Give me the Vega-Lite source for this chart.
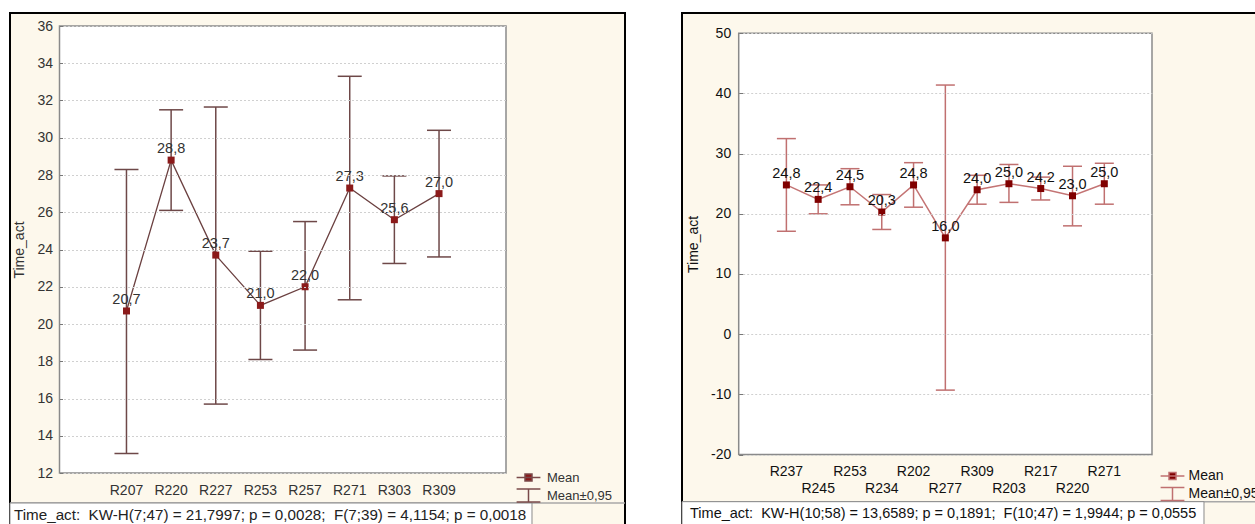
{
  "$schema": "https://vega.github.io/schema/vega-lite/v6.json",
  "background": "white",
  "padding": {"left": 8, "top": 12, "right": 0, "bottom": 0},
  "bounds": "flush",
  "spacing": 57,
  "config": {
    "locale": {"number": {"decimal": ",", "thousands": ".", "grouping": [3], "currency": ["", ""], "minus": "-"}},
    "font": "Liberation Sans",
    "axis": {"labelFont": "Liberation Sans", "titleFont": "Liberation Sans", "labelFontSize": 14, "titleFontSize": 14, "titleFontWeight": "normal"},
    "legend": {"labelFont": "Liberation Sans", "labelFontSize": 14}
  },
  "datasets": {
    "left": [
      {"group": "R207", "mean": 20.7, "lo": 13.05, "hi": 28.3},
      {"group": "R220", "mean": 28.8, "lo": 26.1, "hi": 31.5},
      {"group": "R227", "mean": 23.7, "lo": 15.7, "hi": 31.65},
      {"group": "R253", "mean": 21.0, "lo": 18.1, "hi": 23.9},
      {"group": "R257", "mean": 22.0, "lo": 18.6, "hi": 25.5},
      {"group": "R271", "mean": 27.3, "lo": 21.3, "hi": 33.3},
      {"group": "R303", "mean": 25.6, "lo": 23.25, "hi": 27.95},
      {"group": "R309", "mean": 27.0, "lo": 23.6, "hi": 30.4}
    ],
    "right": [
      {"group": "R237", "mean": 24.8, "lo": 17.1, "hi": 32.5},
      {"group": "R245", "mean": 22.4, "lo": 20.0, "hi": 24.8},
      {"group": "R253", "mean": 24.5, "lo": 21.5, "hi": 27.5},
      {"group": "R234", "mean": 20.3, "lo": 17.4, "hi": 23.2},
      {"group": "R202", "mean": 24.8, "lo": 21.1, "hi": 28.5},
      {"group": "R277", "mean": 16.0, "lo": -9.3, "hi": 41.4},
      {"group": "R309", "mean": 24.0, "lo": 21.6, "hi": 26.4},
      {"group": "R203", "mean": 25.0, "lo": 21.9, "hi": 28.2},
      {"group": "R217", "mean": 24.2, "lo": 22.3, "hi": 26.1},
      {"group": "R220", "mean": 23.0, "lo": 18.0, "hi": 27.9},
      {"group": "R271", "mean": 25.0, "lo": 21.6, "hi": 28.4}
    ]
  },
  "resolve": {"scale": {"shape": "independent"}, "legend": {"shape": "independent"}},
  "hconcat": [
    {
      "width": 615,
      "height": 520,
      "view": {"fill": "#fdf8ec", "stroke": "black", "strokeWidth": 2},
      "resolve": {"scale": {"x": "independent"}, "axis": {"x": "independent", "y": "independent"}},
      "layer": [
        {
          "data": {"values": [{}]},
          "mark": {"type": "rect", "fill": "white", "stroke": "#8a8a8a", "strokeWidth": 1.5},
          "encoding": {
            "x": {"datum": 0, "type": "quantitative", "scale": {"domain": [0, 1], "range": [49.5, 496], "nice": false, "zero": false},
              "axis": {"orient": "top", "offset": -13, "values": [0.05, 0.15, 0.25, 0.35, 0.45, 0.55, 0.65, 0.75, 0.85, 0.95], "labels": false, "domain": false, "grid": false, "tickSize": -3, "tickColor": "#777", "title": null}},
            "x2": {"datum": 1},
            "y": {"datum": 12, "type": "quantitative", "scale": {"domain": [12, 36], "range": [460, 13], "nice": false, "zero": false},
              "axis": {"orient": "right", "offset": -119, "values": [14, 16, 18, 20, 22, 24, 26, 28, 30, 32, 34], "labels": false, "domain": false, "grid": false, "tickSize": -3, "tickColor": "#777", "title": null}},
            "y2": {"datum": 36}
          }
        },
        {
          "data": {"values": [{}]},
          "mark": {"type": "rule", "color": "#a8a8a8", "strokeWidth": 1.5},
          "encoding": {
            "x": {"datum": -0.111, "type": "quantitative", "scale": {"domain": [0, 1], "range": [49.5, 496], "nice": false, "zero": false},
              "axis": {"orient": "bottom", "offset": -60, "values": [0.05, 0.15, 0.25, 0.35, 0.45, 0.55, 0.65, 0.75, 0.85, 0.95], "labels": false, "domain": false, "grid": false, "tickSize": -3, "tickColor": "#777", "title": null}},
            "x2": {"datum": 1.2665},
            "y": {"datum": 10.389, "type": "quantitative", "axis": null}
          }
        },
        {
          "data": {"values": [{"stat": "Time_act:\u00a0 KW-H(7;47) = 21,7997; p = 0,0028;\u00a0 F(7;39) = 4,1154; p = 0,0018"}]},
          "layer": [
            {
              "mark": {"type": "rect", "fill": "white", "stroke": "#8a8a8a", "strokeWidth": 1},
              "encoding": {
                "x": {"datum": -0.111, "type": "quantitative", "scale": {"domain": [0, 1], "range": [49.5, 496], "nice": false, "zero": false}, "axis": null},
                "x2": {"datum": 1.0582},
                "y": {"datum": 10.389, "type": "quantitative", "axis": null},
                "y2": {"datum": 8.5}
              }
            },
            {
              "mark": {"type": "text", "align": "left", "baseline": "alphabetic", "fontSize": 15.2, "color": "#222"},
              "encoding": {
                "x": {"datum": -0.1019, "type": "quantitative", "axis": null},
                "y": {"datum": 9.5, "type": "quantitative", "axis": null},
                "text": {"field": "stat"}
              }
            }
          ]
        },
        {
          "data": {"name": "left"},
          "encoding": {
            "x": {"field": "group", "type": "nominal", "sort": null, "scale": {"type": "band", "paddingInner": 0, "paddingOuter": 1, "range": [49.5, 496]},
              "axis": {"orient": "bottom", "offset": -60, "ticks": false, "tickSize": 0, "domain": false, "grid": false, "labelPadding": 10, "labelAngle": 0, "labelColor": "#333", "title": null}}
          },
          "layer": [
            {
              "mark": {"type": "rule", "color": "#6e4848", "strokeWidth": 1.5},
              "encoding": {
                "y": {"field": "lo", "type": "quantitative",
                  "axis": {"orient": "left", "offset": -49.5, "zindex": 1, "values": [12, 14, 16, 18, 20, 22, 24, 26, 28, 30, 32, 34, 36], "tickSize": -3, "tickColor": "#777", "domain": false, "grid": true, "gridColor": "#d0d0d0", "gridDash": [2, 2], "labelPadding": 10, "labelColor": "#333", "title": "Time_act", "titleColor": "#333", "titlePadding": 10}},
                "y2": {"field": "hi"}
              }
            },
            {
              "mark": {"type": "tick", "orient": "horizontal", "size": 24, "thickness": 1.5, "color": "#6e4848", "opacity": 1},
              "encoding": {"y": {"field": "lo", "type": "quantitative"}}
            },
            {
              "mark": {"type": "tick", "orient": "horizontal", "size": 24, "thickness": 1.5, "color": "#6e4848", "opacity": 1},
              "encoding": {"y": {"field": "hi", "type": "quantitative"}}
            },
            {
              "mark": {"type": "line", "color": "#6b4040", "strokeWidth": 1.3},
              "encoding": {"y": {"field": "mean", "type": "quantitative"}}
            },
            {
              "mark": {"type": "point", "shape": "square", "filled": true, "size": 49, "color": "#8b1a1a", "opacity": 1},
              "encoding": {"y": {"field": "mean", "type": "quantitative"}}
            },
            {
              "mark": {"type": "text", "dy": -7, "baseline": "alphabetic", "fontSize": 14.5, "color": "#333"},
              "encoding": {
                "y": {"field": "mean", "type": "quantitative"},
                "text": {"field": "mean", "type": "quantitative", "format": ".1f"}
              }
            }
          ]
        },
        {
          "data": {"values": []},
          "mark": {"type": "point", "filled": true, "fill": "#8b1a1a", "stroke": "#7a4a4a", "strokeWidth": 1.5, "size": 49, "opacity": 1},
          "encoding": {
            "shape": {"field": "series", "type": "nominal",
              "scale": {"domain": ["Mean", "Mean±0,95"], "range": ["M-3.4,0H3.4M-1,-1H1V1H-1Z", "M-3.4,-1.85H3.4M0,-1.85V1.85M-3.4,1.85H3.4"]},
              "legend": {"orient": "none", "legendX": 512, "legendY": 458, "title": null, "padding": 0, "labelOffset": 12, "rowPadding": 1, "symbolSize": 49, "labelColor": "#333", "labelFontSize": 13}}
          }
        }
      ]
    },
    {
      "width": 590,
      "height": 520,
      "view": {"fill": "#fdf8ec", "stroke": "black", "strokeWidth": 2},
      "resolve": {"scale": {"x": "independent"}, "axis": {"x": "independent", "y": "independent"}},
      "layer": [
        {
          "data": {"values": [{}]},
          "mark": {"type": "rect", "fill": "white", "stroke": "#8a8a8a", "strokeWidth": 1.5},
          "encoding": {
            "x": {"datum": 0, "type": "quantitative", "scale": {"domain": [0, 1], "range": [56.7, 470], "nice": false, "zero": false},
              "axis": {"orient": "top", "offset": -20.3, "values": [0.0385, 0.1154, 0.1923, 0.2692, 0.3462, 0.4231, 0.5, 0.5769, 0.6538, 0.7308, 0.8077, 0.8846, 0.9615], "labels": false, "domain": false, "grid": false, "tickSize": -4, "tickColor": "#777", "title": null}},
            "x2": {"datum": 1},
            "y": {"datum": -20, "type": "quantitative", "scale": {"domain": [-20, 50], "range": [441.5, 20.3], "nice": false, "zero": false},
              "axis": {"orient": "right", "offset": -120, "values": [-10, 0, 10, 20, 30, 40], "labels": false, "domain": false, "grid": false, "tickSize": -4, "tickColor": "#777", "title": null}},
            "y2": {"datum": 50}
          }
        },
        {
          "data": {"values": [{}]},
          "mark": {"type": "rule", "color": "#a8a8a8", "strokeWidth": 1.5},
          "encoding": {
            "x": {"datum": -0.1372, "type": "quantitative", "scale": {"domain": [0, 1], "range": [56.7, 470], "nice": false, "zero": false},
              "axis": {"orient": "bottom", "offset": -78.5, "values": [0.0385, 0.1154, 0.1923, 0.2692, 0.3462, 0.4231, 0.5, 0.5769, 0.6538, 0.7308, 0.8077, 0.8846, 0.9615], "labels": false, "domain": false, "grid": false, "tickSize": -4, "tickColor": "#777", "title": null}},
            "x2": {"datum": 1.2904},
            "y": {"datum": -27.84, "type": "quantitative", "axis": null}
          }
        },
        {
          "data": {"values": [{"stat": "Time_act:\u00a0 KW-H(10;58) = 13,6589; p = 0,1891;\u00a0 F(10;47) = 1,9944; p = 0,0555"}]},
          "layer": [
            {
              "mark": {"type": "rect", "fill": "white", "stroke": "#8a8a8a", "strokeWidth": 1},
              "encoding": {
                "x": {"datum": -0.1372, "type": "quantitative", "scale": {"domain": [0, 1], "range": [56.7, 470], "nice": false, "zero": false}, "axis": null},
                "x2": {"datum": 1.1258},
                "y": {"datum": -27.84, "type": "quantitative", "axis": null},
                "y2": {"datum": -33.5}
              }
            },
            {
              "mark": {"type": "text", "align": "left", "baseline": "alphabetic", "fontSize": 14.5, "color": "#111"},
              "encoding": {
                "x": {"datum": -0.1178, "type": "quantitative", "axis": null},
                "y": {"datum": -30.6, "type": "quantitative", "axis": null},
                "text": {"field": "stat"}
              }
            }
          ]
        },
        {
          "data": {"name": "right"},
          "encoding": {
            "x": {"field": "group", "type": "nominal", "sort": null, "scale": {"type": "band", "paddingInner": 0, "paddingOuter": 1, "range": [56.7, 470]},
              "axis": {"orient": "bottom", "offset": -78.5, "ticks": false, "tickSize": 0, "domain": false, "grid": false,
                "labelPadding": {"condition": {"test": "indexof(['R245','R234','R277','R203','R220'], datum.value) >= 0", "value": 27}, "value": 10},
                "labelAngle": 0, "labelColor": "#111", "title": null}}
          },
          "layer": [
            {
              "mark": {"type": "rule", "color": "#c07070", "strokeWidth": 1.5},
              "encoding": {
                "y": {"field": "lo", "type": "quantitative",
                  "axis": {"orient": "left", "offset": -56.7, "zindex": 1, "values": [-20, -10, 0, 10, 20, 30, 40, 50], "tickSize": -4, "tickColor": "#777", "domain": false, "grid": true, "gridColor": "#d0d0d0", "gridDash": [2, 2], "labelPadding": 12, "labelColor": "#111", "title": "Time_act", "titleColor": "#111", "titlePadding": 10}},
                "y2": {"field": "hi"}
              }
            },
            {
              "mark": {"type": "tick", "orient": "horizontal", "size": 19, "thickness": 1.5, "color": "#c07070", "opacity": 1},
              "encoding": {"y": {"field": "lo", "type": "quantitative"}}
            },
            {
              "mark": {"type": "tick", "orient": "horizontal", "size": 19, "thickness": 1.5, "color": "#c07070", "opacity": 1},
              "encoding": {"y": {"field": "hi", "type": "quantitative"}}
            },
            {
              "mark": {"type": "line", "color": "#c47474", "strokeWidth": 1.5},
              "encoding": {"y": {"field": "mean", "type": "quantitative"}}
            },
            {
              "mark": {"type": "point", "shape": "square", "filled": true, "size": 49, "color": "#800000", "opacity": 1},
              "encoding": {"y": {"field": "mean", "type": "quantitative"}}
            },
            {
              "mark": {"type": "text", "dy": -7, "baseline": "alphabetic", "fontSize": 14.5, "color": "#111"},
              "encoding": {
                "y": {"field": "mean", "type": "quantitative"},
                "text": {"field": "mean", "type": "quantitative", "format": ".1f"}
              }
            }
          ]
        },
        {
          "data": {"values": []},
          "mark": {"type": "point", "filled": true, "fill": "#800000", "stroke": "#c07070", "strokeWidth": 1.5, "size": 49, "opacity": 1},
          "encoding": {
            "shape": {"field": "series", "type": "nominal",
              "scale": {"domain": ["Mean", "Mean±0,95"], "range": ["M-3.4,0H3.4M-1,-1H1V1H-1Z", "M-3.4,-1.85H3.4M0,-1.85V1.85M-3.4,1.85H3.4"]},
              "legend": {"orient": "none", "legendX": 483.5, "legendY": 456, "title": null, "padding": 0, "labelOffset": 9, "rowPadding": 1, "symbolSize": 49, "labelColor": "#111"}}
          }
        }
      ]
    }
  ]
}
